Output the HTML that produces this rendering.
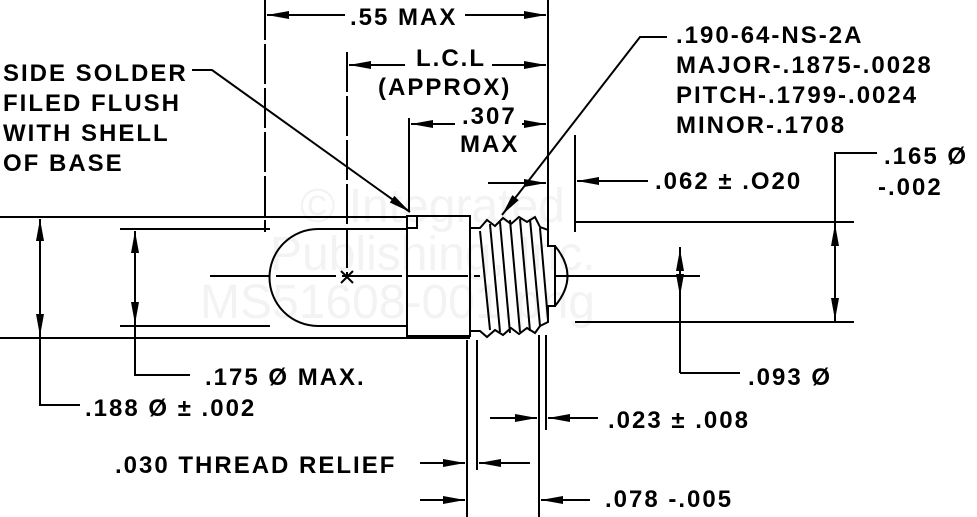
<!DOCTYPE html>
<html><head><style>
html,body{margin:0;padding:0;background:#fff;}
svg{display:block;}
text{font-family:"Liberation Sans",sans-serif;font-size:24px;font-weight:bold;letter-spacing:2px;fill:#000;}
</style></head><body>
<svg width="977" height="517" viewBox="0 0 977 517" xmlns="http://www.w3.org/2000/svg">
<text x="300" y="222" style="font-size:48px;font-weight:normal;letter-spacing:0;fill:#f3f3f3">© Integrated</text>
<text x="270" y="270" style="font-size:48px;font-weight:normal;letter-spacing:0;fill:#f3f3f3">Publishing, Inc.</text>
<text x="200" y="318" style="font-size:48px;font-weight:normal;letter-spacing:0;fill:#f3f3f3">MS51608-001.png</text>
<g stroke="#000" stroke-width="2" fill="none">
<line x1="0" y1="217" x2="407" y2="217"/>
<line x1="0" y1="338" x2="470" y2="338"/>
<line x1="575" y1="222" x2="854" y2="222"/>
<line x1="575" y1="322" x2="854" y2="322"/>
<line x1="120" y1="229" x2="270" y2="229"/>
<line x1="120" y1="326" x2="270" y2="326"/>
<path d="M407,229 H318 A48,48 0 0 0 318,326 H407"/>
<rect x="407" y="216" width="63" height="120"/>
<path d="M407,216 h10 v12 h-10"/>
<line x1="210" y1="276" x2="480" y2="276" stroke-dasharray="60,6"/>
<line x1="555" y1="276" x2="700" y2="276"/>
<path d="M341,271 l12,12 M353,271 l-12,12"/>
<path d="M470,228 H480 L487,220 L495,226 L503,218 L511,224 L519,217 L527,222 L535,217 L540,227 L548,230 V246 H555 V306 H548 V322 L540,326 L535,333 L527,328 L519,334 L511,328 L503,335 L495,330 L487,337 L480,331 H470"/>
<path d="M480,231 L490,330 M490,224 L500,332 M500,222 L510,333 M510,220 L520,332 M520,219 L530,331 M530,219 L540,326 M540,228 L548,320"/>
<path d="M555,246 Q580,276 555,306"/>
<line x1="265" y1="0" x2="265" y2="232" stroke-dasharray="40,4"/>
<line x1="548" y1="0" x2="548" y2="245"/>
<line x1="347" y1="52" x2="347" y2="276" stroke-dasharray="40,4"/>
<line x1="409" y1="118" x2="409" y2="212"/>
<line x1="575" y1="135" x2="575" y2="232"/>
<line x1="467" y1="340" x2="467" y2="517"/>
<line x1="477" y1="340" x2="477" y2="470"/>
<line x1="539" y1="335" x2="539" y2="517"/>
<line x1="546" y1="335" x2="546" y2="430"/>
<line x1="345" y1="15" x2="267" y2="15"/>
<line x1="465" y1="15" x2="546" y2="15"/>
<line x1="405" y1="65" x2="349" y2="65"/>
<line x1="492" y1="65" x2="546" y2="65"/>
<line x1="455" y1="124" x2="411" y2="124"/>
<line x1="522" y1="124" x2="546" y2="124"/>
<line x1="488" y1="183" x2="546" y2="183"/>
<line x1="648" y1="181" x2="577" y2="181"/>
<path d="M877,153 H835 V322"/>
<line x1="680" y1="247" x2="680" y2="373"/>
<path d="M680,373 H740"/>
<path d="M40,219 V405 H80"/>
<path d="M135,231 V375 H190"/>
<line x1="490" y1="418" x2="537" y2="418"/>
<line x1="598" y1="418" x2="548" y2="418"/>
<line x1="420" y1="463" x2="465" y2="463"/>
<line x1="530" y1="463" x2="479" y2="463"/>
<line x1="420" y1="500" x2="465" y2="500"/>
<line x1="590" y1="500" x2="541" y2="500"/>
<path d="M192,70 H212 L410,212"/>
<path d="M667,37 H640 L502,215"/>
</g>
<g fill="#000">
<polygon points="289,11 267,15 289,19"/>
<polygon points="524,11 546,15 524,19"/>
<polygon points="371,61 349,65 371,69"/>
<polygon points="524,61 546,65 524,69"/>
<polygon points="433,120 411,124 433,128"/>
<polygon points="524,120 546,124 524,128"/>
<polygon points="524,179 546,183 524,187"/>
<polygon points="599,177 577,181 599,185"/>
<polygon points="831,246 835,224 839,246"/>
<polygon points="831,298 835,320 839,298"/>
<polygon points="676,271 680,249 684,271"/>
<polygon points="676,274 680,296 684,274"/>
<polygon points="36,241 40,219 44,241"/>
<polygon points="36,314 40,336 44,314"/>
<polygon points="131,253 135,231 139,253"/>
<polygon points="131,302 135,324 139,302"/>
<polygon points="515,414 537,418 515,422"/>
<polygon points="570,414 548,418 570,422"/>
<polygon points="443,459 465,463 443,467"/>
<polygon points="501,459 479,463 501,467"/>
<polygon points="443,496 465,500 443,504"/>
<polygon points="563,496 541,500 563,504"/>
<polygon points="389.8,202.5 410,212 394.4,195.9"/>
<polygon points="518.7,200.1 502,215 512.3,195.1"/>
</g>
<text x="3" y="81">SIDE SOLDER</text>
<text x="3" y="111">FILED FLUSH</text>
<text x="3" y="141">WITH SHELL</text>
<text x="3" y="171">OF BASE</text>
<text x="350" y="25">.55 MAX</text>
<text x="416" y="66">L.C.L</text>
<text x="378" y="95">(APPROX)</text>
<text x="462" y="124">.307</text>
<text x="460" y="152">MAX</text>
<text x="676" y="43">.190-64-NS-2A</text>
<text x="676" y="73">MAJOR-.1875-.0028</text>
<text x="676" y="103">PITCH-.1799-.0024</text>
<text x="676" y="133">MINOR-.1708</text>
<text x="655" y="189">.062 ± .O20</text>
<text x="884" y="164">.165 Ø</text>
<text x="878" y="195">-.002</text>
<text x="748" y="385">.093 Ø</text>
<text x="205" y="385">.175 Ø MAX.</text>
<text x="85" y="416">.188 Ø ± .002</text>
<text x="608" y="428">.023 ± .008</text>
<text x="115" y="473">.030 THREAD RELIEF</text>
<text x="605" y="507">.078 -.005</text>
</svg>
</body></html>
